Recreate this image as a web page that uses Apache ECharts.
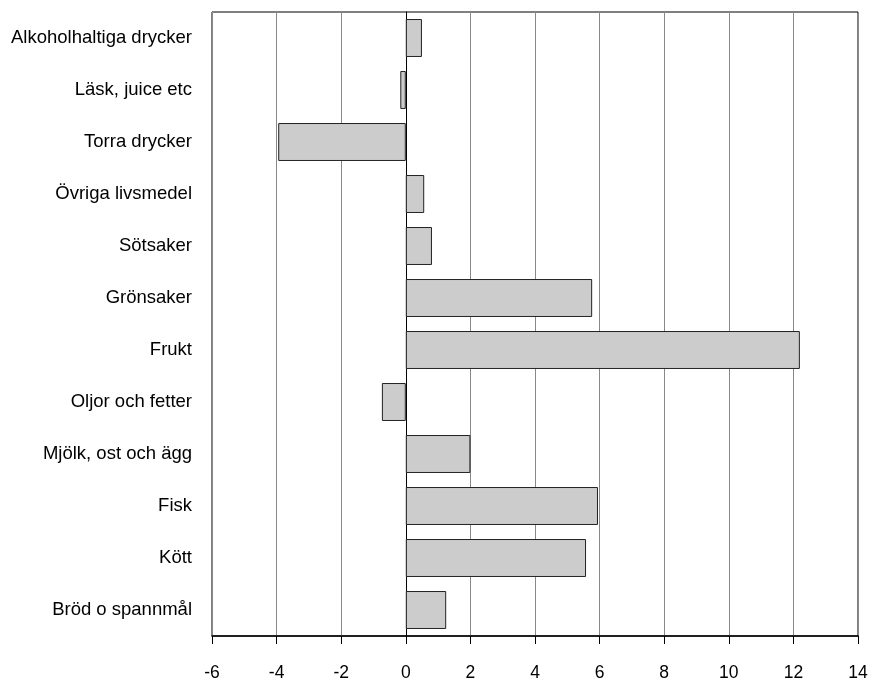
<!DOCTYPE html>
<html><head><meta charset="utf-8">
<script src="https://cdn.jsdelivr.net/npm/echarts@6/dist/echarts.min.js"></script>
<style>html,body{margin:0;padding:0;background:#fff}#c{width:872px;height:686px}</style>
</head><body><div id="c"></div>
<script>
const categories = ["Bröd o spannmål","Kött","Fisk","Mjölk, ost och ägg","Oljor och fetter","Frukt","Grönsaker","Sötsaker","Övriga livsmedel","Torra drycker","Läsk, juice etc","Alkoholhaltiga drycker"];
const values = [1.25, 5.58, 5.95, 2.0, -0.74, 12.2, 5.77, 0.81, 0.57, -3.95, -0.17, 0.5];
const xMin = -6, xMax = 14, xStep = 2;
const FONT = '"Liberation Sans", Arial, sans-serif';
const chart = echarts.init(document.getElementById('c'));
chart.setOption({
  animation:false,
  backgroundColor:'#fff',
  grid:{left:212,right:14,top:12,bottom:50,containLabel:false,outerBoundsMode:'none',show:true,borderColor:'#000',borderWidth:1,backgroundColor:'transparent'},
  xAxis:{type:'value',min:xMin,max:xMax,interval:xStep,
    axisLine:{show:true,onZero:false,lineStyle:{color:'#000',width:1.5}},
    axisTick:{show:true,length:8,inside:false,lineStyle:{color:'#000'}},
    axisLabel:{color:'#000',fontFamily:FONT,fontSize:17.5,margin:28},
    splitLine:{show:true,lineStyle:{color:'#888',width:1}}},
  yAxis:{type:'category',data:categories,
    axisLine:{show:true,lineStyle:{color:'#000'}},
    axisTick:{show:false},
    axisLabel:{color:'#000',fontFamily:FONT,fontSize:18.5,margin:20},
    splitLine:{show:false}},
  series:[{type:'bar',data:values,barCategoryGap:'27%',
    itemStyle:{color:'#cccccc',borderColor:'#222',borderWidth:1}}]
});
</script></body></html>
